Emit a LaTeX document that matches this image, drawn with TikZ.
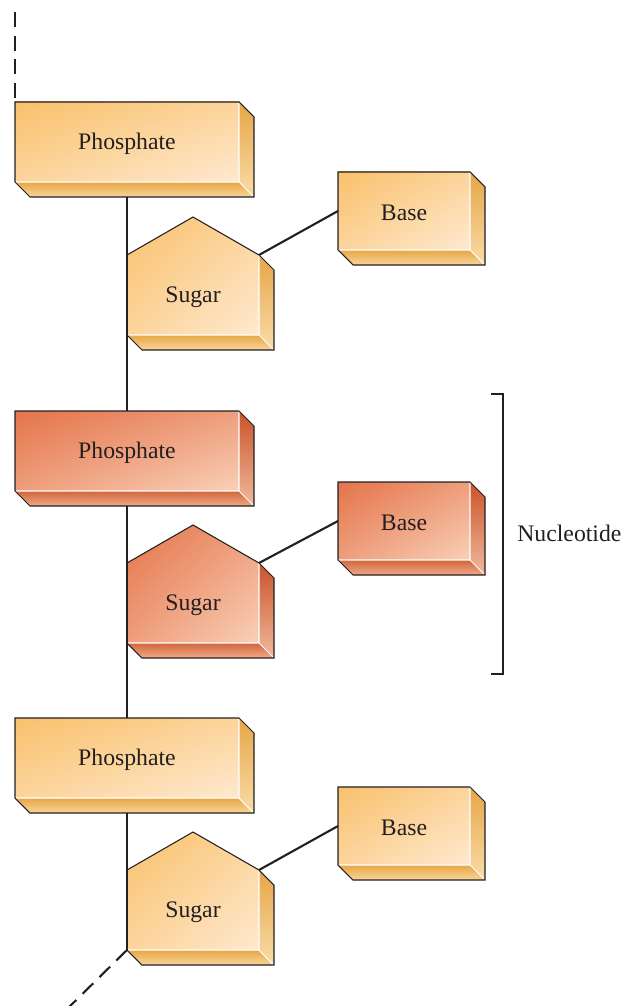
\documentclass[tikz,border=0pt]{standalone}
\usepackage{fontspec}
\setmainfont{Liberation Serif}
\usetikzlibrary{shadings}

% pale (orange) and rust (red) colour sets: front a..b, side s..t, floor u..v
\definecolor{pale-a}{HTML}{F9C16C}
\definecolor{pale-m}{HTML}{FCD49C}
\definecolor{pale-b}{HTML}{FEE9CF}
\definecolor{pale-s}{HTML}{E6A647}
\definecolor{pale-t}{HTML}{F9DCA8}
\definecolor{pale-u}{HTML}{E8A744}
\definecolor{pale-v}{HTML}{F8D59B}
\definecolor{rust-a}{HTML}{E4744A}
\definecolor{rust-m}{HTML}{EE9E7C}
\definecolor{rust-b}{HTML}{F9D0B8}
\definecolor{rust-s}{HTML}{C9532A}
\definecolor{rust-t}{HTML}{F1BA9C}
\definecolor{rust-u}{HTML}{D0663C}
\definecolor{rust-v}{HTML}{F0AA88}
\definecolor{ink}{HTML}{231F20}

\tikzset{
  edge/.style={draw=ink,line width=0.6pt,line join=miter},
  glint/.style={draw=white,line width=0.6pt},
  tag/.style={text=ink,font=\fontsize{13.5}{16}\selectfont,yshift=-1.2pt},
  backbone/.style={draw=ink,line width=1.2pt},
  strand/.style={backbone,dash pattern=on 8.5pt off 5pt},
  link/.style={draw=ink,line width=1.2pt},
}

% box with a 15 unit depth: name, left, top, right, bottom, colour set, text
\newcommand\slab[7]{%
  \shade[upper left=#6-a,lower right=#6-b,upper right=#6-m,lower left=#6-m]
    (#2,#3) rectangle (#4,#5);
  \shade[top color=#6-s,bottom color=#6-t]
    (#4,#3) -- (#4+15,#3+15) -- (#4+15,#5+15) -- (#4,#5) -- cycle;
  \shade[top color=#6-u,bottom color=#6-v]
    (#2,#5) -- (#4,#5) -- (#4+15,#5+15) -- (#2+15,#5+15) -- cycle;
  \draw[glint] (#2,#5) -- (#4,#5) -- (#4,#3) (#4,#5) -- ++(15,15);
  \path[edge] (#2,#5) -- (#2,#3) -- (#4,#3) -- (#4+15,#3+15)
    -- (#4+15,#5+15) -- (#2+15,#5+15) -- cycle;
  \coordinate (#1-n) at ({(#2+#4)/2},#3);
  \coordinate (#1-s) at ({(#2+#4)/2},#5+15);
  \coordinate (#1-w) at (#2,{(#3+#5)/2});
  \coordinate (#1-nw) at (#2,#3);
  \node[tag] (#1) at ({(#2+#4)/2},{(#3+#5)/2}) {#7};
}

% five sided sugar: name, left, shoulder, colour set
\newcommand\sugar[4]{%
  \shade[upper left=#4-a,lower right=#4-b,upper right=#4-m,lower left=#4-m]
    (#2,#3) -- (#2+66,#3-38) -- (#2+132,#3) -- (#2+132,#3+80) -- (#2,#3+80) -- cycle;
  \shade[top color=#4-s,bottom color=#4-t]
    (#2+132,#3) -- (#2+147,#3+15) -- (#2+147,#3+95) -- (#2+132,#3+80) -- cycle;
  \shade[top color=#4-u,bottom color=#4-v]
    (#2,#3+80) -- (#2+132,#3+80) -- (#2+147,#3+95) -- (#2+15,#3+95) -- cycle;
  \draw[glint] (#2,#3+80) -- (#2+132,#3+80) -- (#2+132,#3)
    (#2+132,#3+80) -- ++(15,15);
  \path[edge] (#2,#3+80) -- (#2,#3) -- (#2+66,#3-38) -- (#2+132,#3)
    -- (#2+147,#3+15) -- (#2+147,#3+95) -- (#2+15,#3+95) -- cycle;
  \coordinate (#1-e) at (#2+132,#3);
  \coordinate (#1-sw) at (#2,#3+80);
  \node[tag] (#1) at (#2+66,#3+40) {Sugar};
}

\begin{document}
\begin{tikzpicture}[x=0.2mm,y=-0.2mm]
  \useasboundingbox (0,0) rectangle (623,1006);

  % three nucleotides, the middle one in rust
  \sugar{s1}{127}{255}{pale}
  \sugar{s2}{127}{563}{rust}
  \sugar{s3}{127}{870}{pale}

  \slab{b1}{338}{172}{470}{250}{pale}{Base}
  \slab{b2}{338}{482}{470}{560}{rust}{Base}
  \slab{b3}{338}{787}{470}{865}{pale}{Base}

  \slab{p1}{15}{102}{239}{182}{pale}{Phosphate}
  \slab{p2}{15}{411}{239}{491}{rust}{Phosphate}
  \slab{p3}{15}{718}{239}{798}{pale}{Phosphate}

  \draw[link] (s1-e) -- (b1-w);
  \draw[link] (s2-e) -- (b2-w);
  \draw[link] (s3-e) -- (b3-w);

  % sugar-phosphate chain
  \coordinate (head) at (15,12);
  \coordinate (tail) at (58,1018);
  \draw[strand] (head) -- (p1-nw);
  \draw[backbone] (p1-s) -- (p2-n);
  \draw[backbone] (p2-s) -- (p3-n);
  \draw[backbone] (p3-s) -- (s3-sw);
  \draw[strand] (s3-sw) -- (tail);

  % bracket round one unit
  \coordinate (br-top) at (491,394);
  \coordinate (br-bot) at (491,674);
  \draw[edge,line width=0.8pt] (br-top) -- ++(12,0) |- (br-bot);
  \node[tag,anchor=west,inner sep=0pt] (nuc) at (517,531) {Nucleotide};
\end{tikzpicture}
\end{document}
